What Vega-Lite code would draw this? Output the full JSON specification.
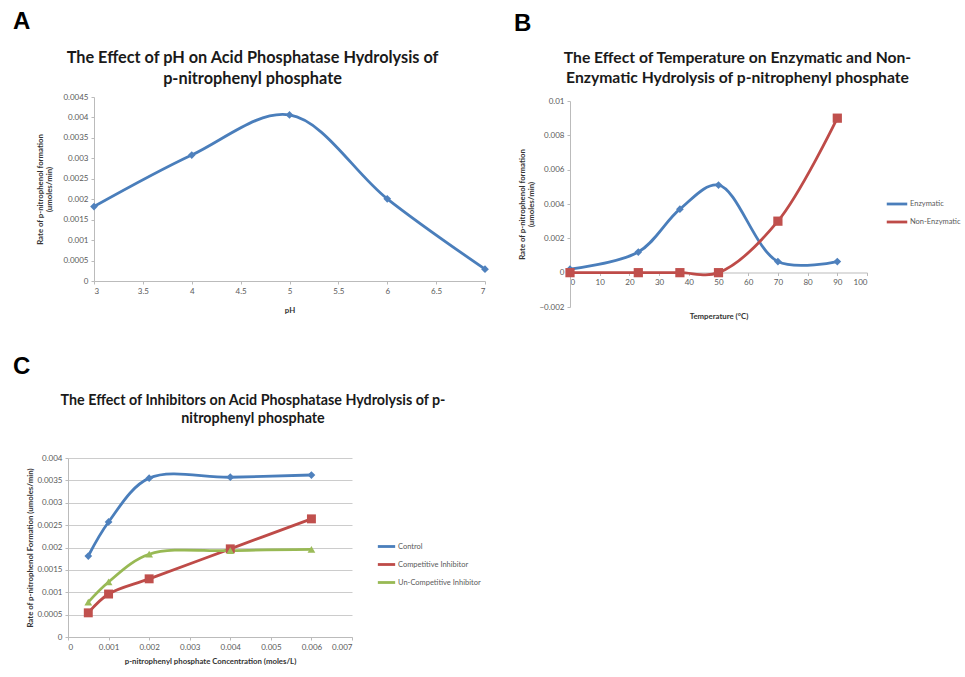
{
  "$schema": "https://vega.github.io/schema/vega-lite/v6.json",
  "background": "white",
  "padding": {"left": 13, "top": 9, "right": 0, "bottom": 0},
  "config": {
    "font": "Lato",
    "view": {"stroke": null},
    "axis": {"labelFontSize": 8, "labelColor": "#5a5a5a", "labelFont": "Lato", "titleFont": "Lato", "titleFontSize": 7.8, "titleFontWeight": "bold", "titleColor": "#333333", "titleLineHeight": 9.5, "domainColor": "#bbbbbb", "tickColor": "#bbbbbb", "grid": false, "tickSize": 3, "labelPadding": 3},
    "title": {"font": "Lato", "fontWeight": "bold", "color": "#1a1a1a"},
    "legend": {"labelFontSize": 7.5, "labelColor": "#5a5a5a", "labelFont": "Lato"}
  },
  "columns": 2,
  "align": "none",
  "spacing": {"row": 34, "column": 23},
  "resolve": {"scale": {"color": "independent"}, "legend": {"color": "independent"}},
  "concat": [
    {
      "title": {"text": "A", "anchor": "start", "frame": "group", "fontSize": 24, "font": "Liberation Sans", "fontWeight": "bold", "color": "black", "dx": -55, "offset": 16.5},
      "vconcat": [
        {
          "title": {"text": ["The Effect of pH on Acid Phosphatase Hydrolysis of", "p-nitrophenyl phosphate"], "anchor": "middle", "frame": "group", "dx": -24, "offset": 5.5, "fontSize": 16.3, "lineHeight": 21},
          "width": 417,
          "height": 184,
          "data": {"values": [
            {"pH": 3, "rate": 0.00182},
            {"pH": 4, "rate": 0.00308},
            {"pH": 5, "rate": 0.00406},
            {"pH": 6, "rate": 0.00201},
            {"pH": 7, "rate": 0.00029}
          ]},
          "encoding": {
            "x": {"field": "pH", "type": "quantitative", "scale": {"domain": [3, 7], "nice": false, "zero": false, "range": [26, 417]}, "axis": {"values": [3, 3.5, 4, 4.5, 5, 5.5, 6, 6.5, 7], "format": ".1~f", "title": "pH", "titlePadding": 11}},
            "y": {"field": "rate", "type": "quantitative", "scale": {"domain": [0, 0.0045], "nice": false}, "axis": {"values": [0, 0.0005, 0.001, 0.0015, 0.002, 0.0025, 0.003, 0.0035, 0.004, 0.0045], "format": ".4~f", "title": ["Rate of p-nitrophenol formation", "(umoles/min)"], "titlePadding": 9, "offset": -26}}
          },
          "layer": [
            {"mark": {"type": "line", "interpolate": "catmull-rom", "color": "#4A7EBB", "strokeWidth": 2.8}},
            {"mark": {"type": "point", "shape": "diamond", "filled": true, "color": "#4F81BD", "size": 60, "opacity": 1}}
          ]
        }
      ]
    },
    {
      "title": {"text": "B", "anchor": "start", "frame": "group", "fontSize": 24, "font": "Liberation Sans", "fontWeight": "bold", "color": "black", "dx": -56, "offset": 14},
      "vconcat": [
        {
          "title": {"text": ["The Effect of Temperature on Enzymatic and Non-", "Enzymatic Hydrolysis of p-nitrophenyl phosphate"], "anchor": "middle", "frame": "group", "dx": 19, "offset": 10, "fontSize": 15.7, "lineHeight": 20.5},
          "width": 297,
          "height": 210,
          "data": {"values": [
            {"temp": 0, "rate": 0.0002, "series": "Enzymatic"},
            {"temp": 23, "rate": 0.0012, "series": "Enzymatic"},
            {"temp": 37, "rate": 0.0037, "series": "Enzymatic"},
            {"temp": 50, "rate": 0.0051, "series": "Enzymatic"},
            {"temp": 70, "rate": 0.00065, "series": "Enzymatic"},
            {"temp": 90, "rate": 0.00065, "series": "Enzymatic"},
            {"temp": 0, "rate": 0, "series": "Non-Enzymatic"},
            {"temp": 23, "rate": 0, "series": "Non-Enzymatic"},
            {"temp": 37, "rate": 0, "series": "Non-Enzymatic"},
            {"temp": 50, "rate": 0, "series": "Non-Enzymatic"},
            {"temp": 70, "rate": 0.003, "series": "Non-Enzymatic"},
            {"temp": 90, "rate": 0.009, "series": "Non-Enzymatic"}
          ]},
          "encoding": {
            "x": {"field": "temp", "type": "quantitative", "scale": {"domain": [0, 100], "nice": false}, "axis": {"values": [0, 10, 20, 30, 40, 50, 60, 70, 80, 90, 100], "title": "Temperature (°C)", "offset": -34.5, "titlePadding": 26}},
            "y": {"field": "rate", "type": "quantitative", "scale": {"domain": [-0.002, 0.01], "nice": false, "zero": false, "range": [210, 4]}, "axis": {"values": [-0.002, 0, 0.002, 0.004, 0.006, 0.008, 0.01], "format": ".3~f", "title": ["Rate of p-nitrophenol formation", "(umoles/min)"], "titlePadding": 3}}
          },
          "layer": [
            {"mark": {"type": "line", "interpolate": "catmull-rom", "strokeWidth": 2.8}, "encoding": {"color": {"field": "series", "type": "nominal", "scale": {"domain": ["Enzymatic", "Non-Enzymatic"], "range": ["#4A7EBB", "#BE4B48"]}, "legend": {"title": null, "orient": "none", "legendX": 315, "legendY": 95, "symbolType": "stroke", "symbolSize": 420, "symbolStrokeWidth": 2.8, "rowPadding": 0, "labelOffset": 1}}}},
            {"transform": [{"filter": {"field": "series", "equal": "Enzymatic"}}], "mark": {"type": "point", "shape": "diamond", "filled": true, "color": "#4F81BD", "size": 60, "opacity": 1}},
            {"transform": [{"filter": {"field": "series", "equal": "Non-Enzymatic"}}], "mark": {"type": "point", "shape": "square", "filled": true, "color": "#C0504D", "size": 85, "opacity": 1}}
          ]
        }
      ]
    },
    {
      "title": {"text": "C", "anchor": "start", "frame": "group", "fontSize": 24, "font": "Liberation Sans", "fontWeight": "bold", "color": "black", "dx": -55, "offset": 15},
      "vconcat": [
        {
          "title": {"text": ["The Effect of Inhibitors on Acid Phosphatase Hydrolysis of p-", "nitrophenyl phosphate"], "anchor": "middle", "frame": "group", "dx": 43, "offset": 28, "fontSize": 14.3, "lineHeight": 17.5},
          "width": 284,
          "height": 179,
          "data": {"values": [
            {"conc": 0.0005, "rate": 0.00181, "series": "Control"},
            {"conc": 0.001, "rate": 0.00257, "series": "Control"},
            {"conc": 0.002, "rate": 0.00355, "series": "Control"},
            {"conc": 0.004, "rate": 0.00357, "series": "Control"},
            {"conc": 0.006, "rate": 0.00362, "series": "Control"},
            {"conc": 0.0005, "rate": 0.00054, "series": "Competitive Inhibitor"},
            {"conc": 0.001, "rate": 0.00096, "series": "Competitive Inhibitor"},
            {"conc": 0.002, "rate": 0.0013, "series": "Competitive Inhibitor"},
            {"conc": 0.004, "rate": 0.00197, "series": "Competitive Inhibitor"},
            {"conc": 0.006, "rate": 0.00264, "series": "Competitive Inhibitor"},
            {"conc": 0.0005, "rate": 0.00078, "series": "Un-Competitive Inhibitor"},
            {"conc": 0.001, "rate": 0.00123, "series": "Un-Competitive Inhibitor"},
            {"conc": 0.002, "rate": 0.00185, "series": "Un-Competitive Inhibitor"},
            {"conc": 0.004, "rate": 0.00193, "series": "Un-Competitive Inhibitor"},
            {"conc": 0.006, "rate": 0.00196, "series": "Un-Competitive Inhibitor"}
          ]},
          "encoding": {
            "x": {"field": "conc", "type": "quantitative", "scale": {"domain": [0, 0.007], "nice": false}, "axis": {"values": [0, 0.001, 0.002, 0.003, 0.004, 0.005, 0.006, 0.007], "format": ".3~f", "title": "p-nitrophenyl phosphate Concentration (moles/L)", "titlePadding": 6}},
            "y": {"field": "rate", "type": "quantitative", "scale": {"domain": [0, 0.004], "nice": false}, "axis": {"values": [0, 0.0005, 0.001, 0.0015, 0.002, 0.0025, 0.003, 0.0035, 0.004], "format": ".4~f", "grid": true, "gridColor": "#cccccc", "title": "Rate of p-nitrophenol Formation (umoles/min)", "titlePadding": 2}}
          },
          "layer": [
            {"mark": {"type": "line", "interpolate": "catmull-rom", "strokeWidth": 2.8}, "encoding": {"color": {"field": "series", "type": "nominal", "scale": {"domain": ["Control", "Competitive Inhibitor", "Un-Competitive Inhibitor"], "range": ["#4A7EBB", "#BE4B48", "#98B954"]}, "legend": {"title": null, "orient": "none", "legendX": 308, "legendY": 78, "symbolType": "stroke", "symbolSize": 300, "symbolStrokeWidth": 2.8, "rowPadding": 1, "labelOffset": 1}}}},
            {"transform": [{"filter": {"field": "series", "equal": "Control"}}], "mark": {"type": "point", "shape": "diamond", "filled": true, "color": "#4F81BD", "size": 60, "opacity": 1}},
            {"transform": [{"filter": {"field": "series", "equal": "Competitive Inhibitor"}}], "mark": {"type": "point", "shape": "square", "filled": true, "color": "#C0504D", "size": 80, "opacity": 1}},
            {"transform": [{"filter": {"field": "series", "equal": "Un-Competitive Inhibitor"}}], "mark": {"type": "point", "shape": "triangle-up", "filled": true, "color": "#9BBB59", "size": 60, "opacity": 1}}
          ]
        }
      ]
    }
  ]
}
